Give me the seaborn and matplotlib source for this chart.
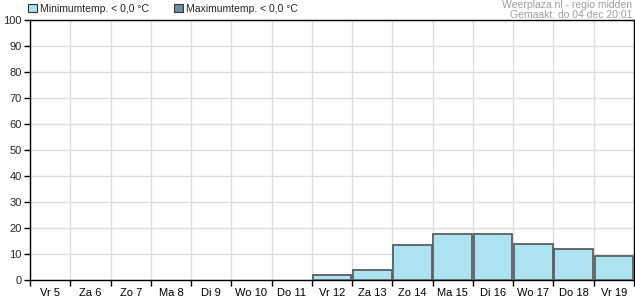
import matplotlib
matplotlib.use("Agg")
import matplotlib.pyplot as plt
import matplotlib.patches as mpatches
from matplotlib.ticker import FixedLocator, MultipleLocator
import seaborn as sns
import pandas as pd

days = ["Vr 5", "Za 6", "Zo 7", "Ma 8", "Di 9", "Wo 10", "Do 11", "Vr 12",
        "Za 13", "Zo 14", "Ma 15", "Di 16", "Wo 17", "Do 18", "Vr 19"]
min_temp_pct = [0, 0, 0, 0, 0, 0, 0, 1.8, 3.8, 13.3, 17.6, 17.6, 13.7, 11.8, 9.4]
max_temp_pct = [0] * 15
series_names = ["Minimumtemp. < 0,0 °C", "Maximumtemp. < 0,0 °C"]
colors = ["#ade2f1", "#6b8fa8"]

sns.set_theme(style="white")
plt.rcParams["font.family"] = ["Liberation Sans", "DejaVu Sans"]
plt.rcParams["font.size"] = 8

df = pd.DataFrame({"dag": days, "min": min_temp_pct, "max": max_temp_pct})

fig = plt.figure(figsize=(6.35, 3.0), dpi=100)
ax = fig.add_axes([30 / 635, 20 / 300, 604 / 635, 260 / 300])

sns.barplot(data=df, x="dag", y="min", color=colors[0], width=0.96,
            edgecolor="#5a5f62", linewidth=1.3, saturation=1, ax=ax, zorder=3)
for p in ax.patches:
    if p.get_height() == 0:
        p.set_visible(False)

ax.set_xlim(-0.5, len(days) - 0.5)
ax.set_ylim(0, 100)
ax.yaxis.set_major_locator(MultipleLocator(10))
ax.set_xlabel("")
ax.set_ylabel("")

bounds = [i - 0.5 for i in range(len(days) + 1)]
ax.xaxis.set_minor_locator(FixedLocator(bounds))
ax.tick_params(axis="x", which="major", length=0, pad=6, labelsize=8, colors="black")
ax.tick_params(axis="x", which="minor", length=4, width=1, color="black", direction="out", bottom=True)
ax.tick_params(axis="y", which="major", length=4, width=1, color="black", direction="out", left=True, labelsize=8, pad=2)
ax.grid(False)
ax.grid(which="minor", axis="x", color="#dddddd", linewidth=1, zorder=0)
ax.grid(which="major", axis="y", color="#dddddd", linewidth=1, zorder=0)
ax.set_axisbelow(True)
for s in ax.spines.values():
    s.set_color("black")
    s.set_linewidth(1)
    s.set_visible(True)

handles = [mpatches.Patch(facecolor=c, edgecolor="#333333", linewidth=0.8) for c in colors]
leg = fig.legend(handles, series_names, loc="upper left", bbox_to_anchor=(21 / 635, 1.012),
                 ncol=2, frameon=False, fontsize=7.5, handlelength=0.8, handleheight=0.8,
                 handletextpad=0.35, columnspacing=2.4, borderpad=0.2)

fig.text(632 / 635, 1 - 0.5 / 300, "Weerplaza.nl - regio midden", ha="right", va="top",
         fontsize=7.5, color="#a0a0a0")
fig.text(632 / 635, 1 - 10.5 / 300, "Gemaakt: do 04 dec 20:01", ha="right", va="top",
         fontsize=7.5, color="#a0a0a0")

fig.savefig("out.png", dpi=100)
